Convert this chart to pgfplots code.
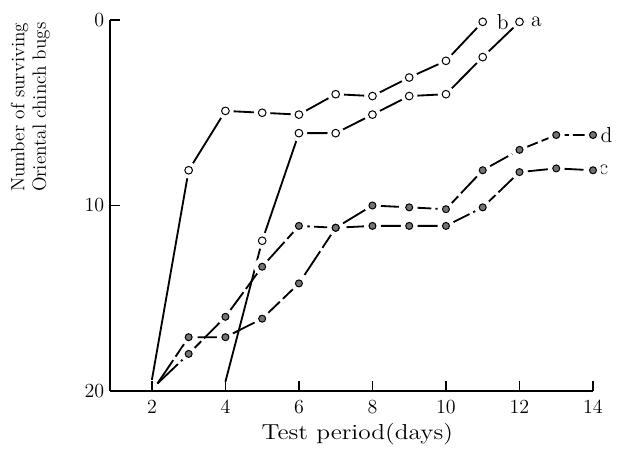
\documentclass[border=0pt]{standalone}
\usepackage{pgfplots}
\usepackage{pgfplotstable}
\pgfplotsset{compat=1.18}

\pgfplotstableread{
x y
4 19.5
5 11.9
6 6.1
7 6.1
8 5.1
9 4.1
10 4.0
11 2.0
12 0.1
}\seriesa
\pgfplotstableread{
x y
2 19.4
3 8.1
4 4.9
5 5.0
6 5.1
7 4.0
8 4.1
9 3.1
10 2.2
11 0.1
}\seriesb
\pgfplotstableread{
x y
2.15 19.6
3 18.0
4 16.0
5 13.3
6 11.1
7 11.2
8 11.1
9 11.1
10 11.1
11 10.1
12 8.2
13 8.0
14 8.1
}\seriesc
\pgfplotstableread{
x y
2.15 19.6
3 17.1
4 17.1
5 16.1
6 14.2
7 11.2
8 10.0
9 10.1
10 10.2
11 8.1
12 7.0
13 6.2
14 6.2
}\seriesd

\begin{document}
\begin{tikzpicture}
\useasboundingbox (-66pt,-35.4pt) rectangle (311.4pt,234.6pt);
\begin{axis}[
  scale only axis, width=289.8pt, height=222.6pt,
  at={(0,0)}, anchor=south west,
  xmin=0.86, xmax=14, ymin=0, ymax=20, y dir=reverse,
  axis x line=bottom, axis y line=left,
  axis line style={-, line width=0.8pt},
  xtick={2,4,...,14}, ytick={0,10,20},
  tick align=inside, major tick length=6pt,
  tick style={line width=0.8pt, black},
  tick label style={font=\fontsize{13}{15}\selectfont},
  xticklabel style={yshift=-2pt},
  xlabel={Test period(days)},
  xlabel style={font=\fontsize{13}{15}\selectfont, xscale=1.17, yshift=1pt, xshift=3pt},
  ylabel={Number of surviving\\Oriental chinch bugs},
  ylabel style={font=\fontsize{11.5}{13}\selectfont, align=center,
    at={(rel axis cs:-0.165,0.765)}, anchor=center},
  clip=false,
  every axis plot/.append style={line width=1.1pt, black},
]
% lines
\addplot[no marks] table {\seriesa};
\addplot[no marks] table {\seriesb};
\addplot[no marks, dash pattern=on 17pt off 2.5pt] table {\seriesc};
\addplot[no marks, dash pattern=on 17pt off 2.5pt] table {\seriesd};
% white gaps round the markers
\addplot[white, only marks, mark=*, mark size=4.4pt, skip coords between index={0}{1}] table {\seriesa};
\addplot[white, only marks, mark=*, mark size=4.4pt, skip coords between index={0}{1}] table {\seriesb};
\addplot[white, only marks, mark=*, mark size=4.5pt, skip coords between index={0}{1}] table {\seriesc};
\addplot[white, only marks, mark=*, mark size=4.5pt, skip coords between index={0}{1}] table {\seriesd};
% markers
\addplot[only marks, mark=*, mark size=2.3pt, mark options={fill=white, draw=black, line width=0.6pt}, skip coords between index={0}{1}] table {\seriesa};
\addplot[only marks, mark=*, mark size=2.3pt, mark options={fill=white, draw=black, line width=0.6pt}, skip coords between index={0}{1}] table {\seriesb};
\addplot[only marks, mark=*, mark size=2.1pt, mark options={fill=black!55, draw=black, line width=0.6pt}, skip coords between index={0}{1}] table {\seriesc};
\addplot[only marks, mark=*, mark size=2.1pt, mark options={fill=black!55, draw=black, line width=0.6pt}, skip coords between index={0}{1}] table {\seriesd};
% series names
\node[anchor=west, font=\fontsize{13}{14}\selectfont, xshift=3.5pt] at (axis cs:12,0.1) {a};
\node[anchor=west, font=\fontsize{13}{14}\selectfont, xshift=5pt] at (axis cs:11,0.1) {b};
\node[anchor=west, font=\fontsize{13}{14}\selectfont, xshift=0pt] at (axis cs:14,8.1) {c};
\node[anchor=west, font=\fontsize{13}{14}\selectfont, xshift=1pt] at (axis cs:14,6.2) {d};
\end{axis}
\end{tikzpicture}
\end{document}
